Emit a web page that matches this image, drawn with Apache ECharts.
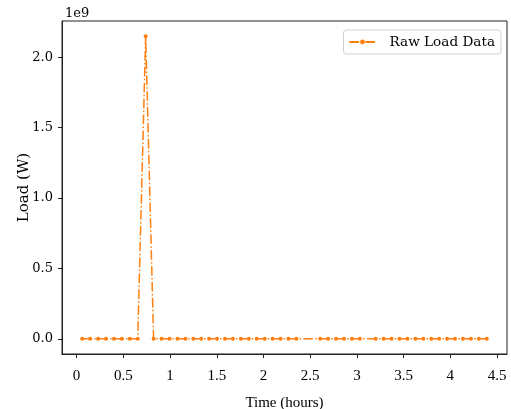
<!DOCTYPE html>
<html>
<head>
<meta charset="utf-8">
<script src="https://cdn.jsdelivr.net/npm/echarts@6/dist/echarts.min.js"></script>
<style>html,body{margin:0;padding:0;background:#fff;}#c{width:511px;height:409px;}</style>
</head>
<body>
<div id="c"></div>
<script>
// Time in hours (some samples missing in the record)
const timeHours = [0.060,0.145,0.230,0.315,0.400,0.485,0.569,0.654,0.739,0.824,
  0.909,0.994,1.079,1.164,1.249,1.334,1.418,1.503,1.588,1.673,
  1.758,1.843,1.928,2.013,2.098,2.183,2.267,2.352,
  2.607,2.692,2.777,2.862,2.947,3.032,
  3.201,3.286,3.371,3.456,3.541,3.626,3.711,3.796,3.881,3.965,
  4.050,4.135,4.220,4.305,4.390];
// Load in W
const loadW = [0,0,0,0,0,0,0,0,2.15e9,0,
  0,0,0,0,0,0,0,0,0,0,
  0,0,0,0,0,0,0,0,
  0,0,0,0,0,0,
  0,0,0,0,0,0,0,0,0,0,
  0,0,0,0,0];
const xTicks = [0,0.5,1,1.5,2,2.5,3,3.5,4,4.5];
const yTicks = [0,0.5e9,1.0e9,1.5e9,2.0e9];
const seriesName = 'Raw Load Data';

const data = timeHours.map((t,i)=>[t, loadW[i]]);
const chart = echarts.init(document.getElementById('c'), null, {renderer:'canvas'});
const serifTimes = '"Liberation Serif", "Times New Roman", serif';
const serifDejaVu = '"DejaVu Serif", serif';
chart.setOption({
  animation:false,
  backgroundColor:'#fff',
  title:{text:'1e9', left:60, top:2, textStyle:{fontFamily:serifDejaVu, fontSize:13, fontWeight:'normal', color:'#000'}},
  grid:{left:62, right:4, top:21, bottom:55, show:true, borderColor:'#222', borderWidth:1,
    backgroundColor:'transparent', outerBoundsMode:'none', containLabel:false},
  legend:{
    right:10, top:30, data:[seriesName], itemWidth:26, itemHeight:6,
    padding:[5,6,5,5], borderColor:'#d0d0d0', borderWidth:1, borderRadius:3, backgroundColor:'#fff',
    textStyle:{fontFamily:serifDejaVu, fontSize:13.6, color:'#000', padding:[0,0,0,9]}
  },
  xAxis:{
    type:'value', min:-0.1565, max:4.6065,
    name:'Time (hours)', nameLocation:'middle', nameGap:42, nameMoveOverlap:false,
    nameTextStyle:{fontFamily:serifTimes, fontSize:15, color:'#000'},
    axisLine:{onZero:false, lineStyle:{color:'#222', width:1}},
    axisTick:{show:true, length:4, lineStyle:{color:'#222'}, customValues:xTicks},
    axisLabel:{customValues:xTicks, fontFamily:serifTimes, fontSize:15, color:'#000', margin:15},
    splitLine:{show:false}
  },
  yAxis:{
    type:'value', min:-0.1075e9, max:2.2575e9,
    name:'Load (W)', nameLocation:'middle', nameGap:30, nameMoveOverlap:false,
    nameTextStyle:{fontFamily:serifDejaVu, fontSize:15, color:'#000'},
    axisLine:{show:true, onZero:false, lineStyle:{color:'#222', width:1}},
    axisTick:{show:true, length:4, lineStyle:{color:'#222'}, customValues:yTicks},
    axisLabel:{customValues:yTicks, fontFamily:serifDejaVu, fontSize:13, color:'#000', margin:9,
      formatter:v=>(v/1e9).toFixed(1)},
    splitLine:{show:false}
  },
  series:[{
    name:seriesName, type:'line', data:data,
    symbol:'circle', symbolSize:4, showSymbol:true,
    itemStyle:{color:'#ff7f0e'},
    lineStyle:{color:'#ff7f0e', width:1.5, type:[9.6,2.4,1.5,2.4]}
  }]
});
</script>
</body>
</html>
